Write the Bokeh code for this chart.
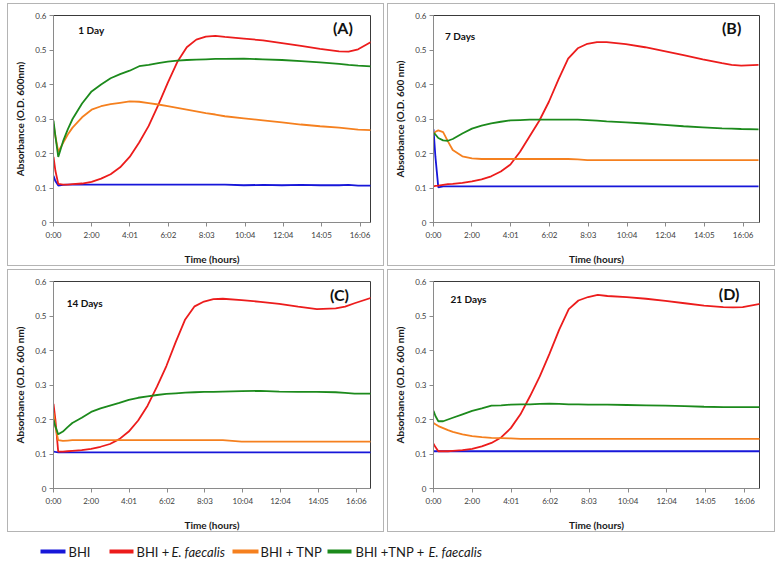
from bokeh.plotting import figure
from bokeh.layouts import column, row
from bokeh.models import FixedTicker, Label, Range1d, Spacer
from bokeh.core.properties import value
from bokeh.embed import file_html
from bokeh.resources import INLINE

# ---------------- data ----------------
T = [0, 0.1, 0.25, 0.5, 0.75, 1, 1.5, 2, 2.5, 3, 3.5, 4, 4.5, 5, 5.5, 6, 6.5, 7,
     7.5, 8, 8.5, 9, 10, 11, 12, 13, 14, 15, 15.5, 16, 16.9]

X_TICK_LABELS = ["0:00", "2:00", "4:01", "6:02", "8:03", "10:04", "12:04", "14:05", "16:06"]
Y_TICKS = [0, 0.1, 0.2, 0.3, 0.4, 0.5, 0.6]
Y_TICK_LABELS = ["0", "0.1", "0.2", "0.3", "0.4", "0.5", "0.6"]

SERIES = ["BHI", "BHI + E. faecalis", "BHI + TNP", "BHI +TNP + E. faecalis"]

A_BHI = [0.135, 0.120, 0.107, 0.109, 0.110, 0.110, 0.110, 0.110, 0.110, 0.110, 0.110,
         0.110, 0.110, 0.110, 0.110, 0.110, 0.110, 0.110, 0.110, 0.110, 0.110, 0.110,
         0.108, 0.109, 0.108, 0.109, 0.108, 0.108, 0.109, 0.107, 0.107]
A_EF = [0.190, 0.150, 0.112, 0.110, 0.110, 0.111, 0.113, 0.118, 0.127, 0.140, 0.160,
        0.190, 0.232, 0.280, 0.340, 0.405, 0.465, 0.508, 0.530, 0.539, 0.541, 0.538,
        0.533, 0.528, 0.520, 0.512, 0.503, 0.496, 0.495, 0.502, 0.530]
A_TNP = [0.285, 0.250, 0.205, 0.230, 0.255, 0.275, 0.305, 0.327, 0.337, 0.343, 0.347,
         0.351, 0.350, 0.346, 0.342, 0.337, 0.332, 0.327, 0.322, 0.317, 0.313, 0.308,
         0.302, 0.296, 0.290, 0.284, 0.279, 0.275, 0.272, 0.269, 0.267]
A_TNPEF = [0.295, 0.250, 0.190, 0.235, 0.270, 0.300, 0.345, 0.380, 0.400, 0.418, 0.430,
           0.440, 0.453, 0.457, 0.462, 0.466, 0.469, 0.471, 0.472, 0.473, 0.474, 0.474,
           0.475, 0.473, 0.471, 0.468, 0.464, 0.460, 0.457, 0.455, 0.452]

B_BHI = [0.270, 0.190, 0.102, 0.105, 0.105, 0.105, 0.105, 0.105, 0.105, 0.105, 0.105,
         0.105, 0.105, 0.105, 0.105, 0.105, 0.105, 0.105, 0.105, 0.105, 0.105, 0.105,
         0.105, 0.105, 0.105, 0.105, 0.105, 0.105, 0.105, 0.105, 0.105]
B_EF = [0.105, 0.106, 0.107, 0.109, 0.111, 0.112, 0.115, 0.119, 0.125, 0.134, 0.148,
        0.168, 0.205, 0.250, 0.295, 0.350, 0.415, 0.475, 0.505, 0.518, 0.523, 0.523,
        0.517, 0.508, 0.497, 0.485, 0.473, 0.462, 0.457, 0.455, 0.457]
B_TNP = [0.255, 0.263, 0.267, 0.262, 0.235, 0.210, 0.192, 0.186, 0.184, 0.184, 0.184,
         0.184, 0.184, 0.184, 0.184, 0.184, 0.184, 0.184, 0.183, 0.181, 0.181, 0.181,
         0.181, 0.181, 0.181, 0.181, 0.181, 0.181, 0.181, 0.181, 0.181]
B_TNPEF = [0.260, 0.255, 0.245, 0.238, 0.237, 0.242, 0.258, 0.272, 0.281, 0.287, 0.292,
           0.296, 0.297, 0.298, 0.298, 0.298, 0.298, 0.298, 0.298, 0.297, 0.295, 0.293,
           0.290, 0.287, 0.283, 0.279, 0.276, 0.273, 0.272, 0.271, 0.270]

C_BHI = [0.107, 0.106, 0.105, 0.105, 0.105, 0.105, 0.105, 0.105, 0.105, 0.105, 0.105,
         0.105, 0.105, 0.105, 0.105, 0.105, 0.105, 0.105, 0.105, 0.105, 0.105, 0.105,
         0.105, 0.105, 0.105, 0.105, 0.105, 0.105, 0.105, 0.105, 0.105]
C_EF = [0.245, 0.200, 0.107, 0.107, 0.108, 0.109, 0.111, 0.115, 0.121, 0.129, 0.143,
        0.165, 0.197, 0.240, 0.295, 0.355, 0.425, 0.490, 0.528, 0.542, 0.549, 0.550,
        0.546, 0.541, 0.535, 0.527, 0.520, 0.522, 0.527, 0.537, 0.553]
C_TNP = [0.220, 0.180, 0.140, 0.138, 0.139, 0.140, 0.140, 0.140, 0.140, 0.140, 0.140,
         0.140, 0.140, 0.140, 0.140, 0.140, 0.140, 0.140, 0.140, 0.140, 0.140, 0.140,
         0.136, 0.136, 0.136, 0.136, 0.136, 0.136, 0.136, 0.136, 0.136]
C_TNPEF = [0.200, 0.180, 0.157, 0.165, 0.178, 0.190, 0.205, 0.222, 0.232, 0.240, 0.248,
           0.257, 0.263, 0.267, 0.271, 0.274, 0.276, 0.278, 0.279, 0.280, 0.280, 0.281,
           0.282, 0.283, 0.281, 0.280, 0.280, 0.279, 0.277, 0.275, 0.275]

D_BHI = [0.108, 0.108, 0.108, 0.108, 0.108, 0.108, 0.108, 0.108, 0.108, 0.108, 0.108,
         0.108, 0.108, 0.108, 0.108, 0.108, 0.108, 0.108, 0.108, 0.108, 0.108, 0.108,
         0.108, 0.108, 0.108, 0.108, 0.108, 0.108, 0.108, 0.108, 0.108]
D_EF = [0.130, 0.120, 0.108, 0.108, 0.108, 0.109, 0.111, 0.115, 0.122, 0.132, 0.148,
        0.175, 0.215, 0.268, 0.325, 0.390, 0.460, 0.520, 0.545, 0.555, 0.561, 0.558,
        0.555, 0.550, 0.544, 0.537, 0.530, 0.526, 0.525, 0.526, 0.535]
D_TNP = [0.190, 0.186, 0.181, 0.175, 0.169, 0.164, 0.157, 0.152, 0.149, 0.147, 0.146,
         0.145, 0.144, 0.144, 0.144, 0.144, 0.144, 0.144, 0.144, 0.144, 0.144, 0.144,
         0.144, 0.144, 0.144, 0.144, 0.144, 0.144, 0.144, 0.144, 0.144]
D_TNPEF = [0.225, 0.210, 0.195, 0.195, 0.200, 0.205, 0.215, 0.225, 0.232, 0.240, 0.241,
           0.243, 0.244, 0.244, 0.245, 0.246, 0.245, 0.244, 0.244, 0.243, 0.243, 0.243,
           0.242, 0.241, 0.240, 0.239, 0.237, 0.236, 0.236, 0.236, 0.236]

PANELS = [
    dict(tag="(A)", day="1 Day", ylab="Absorbance (O.D. 600nm)",
         ys=[A_BHI, A_EF, A_TNP, A_TNPEF]),
    dict(tag="(B)", day="7 Days", ylab="Absorbance (O.D. 600 nm)",
         ys=[B_BHI, B_EF, B_TNP, B_TNPEF]),
    dict(tag="(C)", day="14 Days", ylab="Absorbance (O.D. 600 nm)",
         ys=[C_BHI, C_EF, C_TNP, C_TNPEF]),
    dict(tag="(D)", day="21 Days", ylab="Absorbance (O.D. 600 nm)",
         ys=[D_BHI, D_EF, D_TNP, D_TNPEF]),
]

# ---------------- styling / layout ----------------
COLORS = ["#1717d9", "#ec1c1c", "#f5801f", "#1c8a1c"]
FONT = "Lato"
BORDER_L, BORDER_T, BORDER_B = 45, 11, 43
FRAME_H = 205

LAYOUT = [
    dict(fw=315, r=15, xend=16.65, dpos=(1.3, 0.557), tpos=(15.2, 0.566)),
    dict(fw=324, r=17, xend=16.95, dpos=(0.6, 0.540), tpos=(15.5, 0.565)),
    dict(fw=315, r=15, xend=16.85, dpos=(0.7, 0.539), tpos=(15.2, 0.562)),
    dict(fw=324, r=17, xend=16.87, dpos=(0.88, 0.548), tpos=(15.3, 0.565)),
]


def tick_hours(lbl):
    h, m = lbl.split(":")
    return int(h) + int(m) / 60.0


def make_panel(info, lay):
    p = figure(frame_width=lay["fw"], frame_height=FRAME_H, title=None,
               output_backend="svg", toolbar_location=None,
               x_range=Range1d(0, lay["xend"]), y_range=Range1d(0, 0.6),
               min_border_left=BORDER_L, min_border_right=lay["r"],
               min_border_top=BORDER_T, min_border_bottom=BORDER_B)
    p.styles = {"border": "1px solid #b4b4b4"}
    p.border_fill_alpha = 0
    p.background_fill_color = "white"
    p.outline_line_color = "#3a3a3a"
    p.outline_line_width = 1
    p.xgrid.visible = False
    p.ygrid.visible = False

    for ys, c in zip(info["ys"], COLORS):
        p.line(T, ys, line_color=c, line_width=1.8)

    xt = [tick_hours(s) for s in X_TICK_LABELS]
    p.xaxis.ticker = FixedTicker(ticks=xt)
    p.xaxis.major_label_overrides = {v: s for v, s in zip(xt, X_TICK_LABELS)}
    p.yaxis.ticker = FixedTicker(ticks=Y_TICKS)
    p.yaxis.major_label_overrides = {v: s for v, s in zip(Y_TICKS, Y_TICK_LABELS)}

    for ax in (p.xaxis[0], p.yaxis[0]):
        ax.axis_line_color = "#8a8a8a"
        ax.major_tick_line_color = "#8a8a8a"
        ax.major_tick_in = 0
        ax.major_tick_out = 4
        ax.minor_tick_line_color = None
        ax.major_label_text_font = FONT
        ax.major_label_text_font_size = "8px"
        ax.major_label_text_color = "#404040"
        ax.major_label_standoff = 3
        ax.axis_label_text_font = FONT
        ax.axis_label_text_font_size = "10px"
        ax.axis_label_text_font_style = "bold"
        ax.axis_label_text_color = "#1a1a1a"

    p.xaxis.axis_label = "Time (hours)"
    p.yaxis.axis_label = info["ylab"]
    p.xaxis.axis_label_standoff = 10
    p.yaxis.axis_label_standoff = 6

    p.add_layout(Label(x=lay["dpos"][0], y=lay["dpos"][1], text=info["day"],
                       text_font=FONT, text_font_size="10px", text_font_style="bold",
                       text_baseline="middle", text_align="left", text_color="#111111"))
    p.add_layout(Label(x=lay["tpos"][0], y=lay["tpos"][1], text=info["tag"],
                       text_font=FONT, text_font_size="16px", text_font_style="bold",
                       text_baseline="middle", text_align="center", text_color="#111111"))
    return p


panels = [make_panel(info, lay) for info, lay in zip(PANELS, LAYOUT)]

# ---------------- legend ----------------
LEG_LINE_X0 = [40, 109, 232, 327]
LEG_LINE_X1 = [65, 133, 258, 351]
LEG_TEXT_X = [68, 136, 260, 355]
LEG_PARTS = [("BHI", ""), ("BHI + ", "E. faecalis"), ("BHI + TNP", ""), ("BHI +TNP + ", "E. faecalis")]
LEG_ITAL_X = [None, 171, None, 428]
LEG_Y = 13

leg = figure(width=783, height=32, output_backend="svg", toolbar_location=None, title=None,
             x_range=Range1d(0, 783), y_range=Range1d(0, 32),
             min_border=0, min_border_left=0, min_border_right=0,
             min_border_top=0, min_border_bottom=0)
leg.axis.visible = False
leg.grid.visible = False
leg.outline_line_color = None
leg.border_fill_alpha = 0
leg.background_fill_alpha = 0
LEG_FONT = value("Lato")
for i in range(4):
    leg.segment(x0=[LEG_LINE_X0[i]], y0=[LEG_Y], x1=[LEG_LINE_X1[i]], y1=[LEG_Y],
                line_color=COLORS[i], line_width=4)
    leg.text(x=[LEG_TEXT_X[i]], y=[LEG_Y], text=[LEG_PARTS[i][0]], text_font=LEG_FONT,
             text_font_size="13px", text_baseline="middle", text_align="left",
             text_color="#1a1a1a")
    if LEG_PARTS[i][1]:
        leg.text(x=[LEG_ITAL_X[i]], y=[LEG_Y], text=[LEG_PARTS[i][1]], text_font=LEG_FONT,
                 text_font_size="13px", text_font_style="italic", text_baseline="middle",
                 text_align="left", text_color="#1a1a1a")

top = row(Spacer(width=7), panels[0], Spacer(width=3), panels[1], spacing=0)
bottom = row(Spacer(width=7), panels[2], Spacer(width=3), panels[3], spacing=0)
layout = column(Spacer(height=3), top, Spacer(height=3), bottom, leg, spacing=0)

open("out.html", "w").write(file_html(layout, INLINE))
